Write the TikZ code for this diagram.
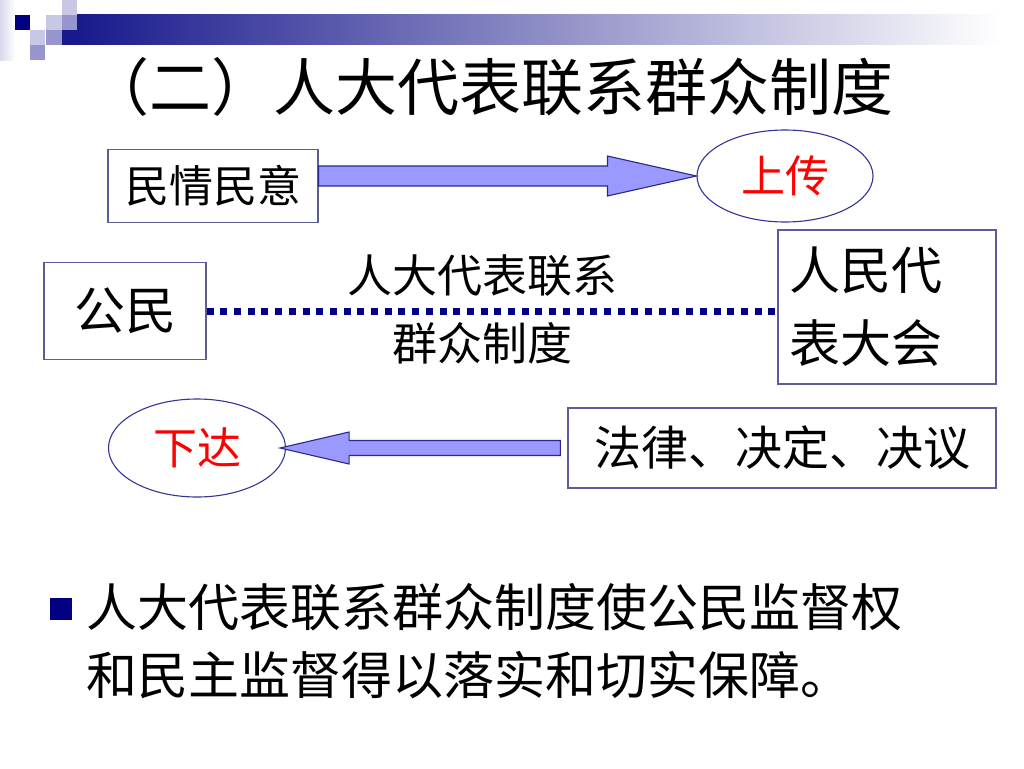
\documentclass[tikz,border=0pt]{standalone}
\usepackage{fontspec}
\setmainfont{Liberation Serif}
\newfontfamily\cjk{Noto Sans CJK SC}
\usetikzlibrary{shapes.geometric,calc}

\definecolor{boxline}{RGB}{92,92,150}
\definecolor{navyblue}{RGB}{0,0,128}
\definecolor{arrowfill}{RGB}{153,153,255}
\definecolor{arrowline}{RGB}{40,40,140}
\definecolor{lavlight}{RGB}{200,200,230}
\definecolor{lavmid}{RGB}{150,150,204}

\tikzset{
  txt/.style={font=\cjk\fontsize{#1}{#1}\selectfont,inner sep=0pt},
  txt/.default=51,
  framebox/.style={draw=boxline,line width=1.3pt,inner sep=0pt},
  oval/.style={ellipse,draw=navyblue!80,line width=1.1pt,inner sep=0pt,
    text=red,font=\cjk\fontsize{44}{44}\selectfont},
  fatarrow/.style={fill=arrowfill,draw=arrowline,line width=1.1pt,line join=miter},
}

\begin{document}
\begin{tikzpicture}[x=1pt,y=-1pt]
  \useasboundingbox (0,0) rectangle (1024,768);

  % corner ornament
  \shade[left color=lavlight!70,right color=white] (0,0) rectangle (15,60);
  \shade[left color=navyblue!90,right color=white] (77,15) rectangle (1000,45);
  \fill[navyblue] (15,15) rectangle (30,30);
  \fill[lavlight] (30,30) rectangle (45,45);
  \fill[lavmid]   (30,45) rectangle (45,60);
  \fill[lavlight] (46,15) rectangle (62,30);
  \fill[lavmid]   (46,30) rectangle (62,45);
  \fill[lavlight] (62,0)  rectangle (77,15);
  \fill[lavmid]   (62,15) rectangle (77,30);
  \fill[navyblue!90] (62,30) rectangle (77,45);

  % title
  \node[txt=62] (title) at (490,87) {（二）人大代表联系群众制度};

  % boxes and ovals
  \node[framebox,txt=44,minimum width=210,minimum height=73] (mq) at (213,186) {民情民意};
  \node[oval,minimum width=176,minimum height=92] (up) at (785,176) {上传};
  \node[framebox,txt,minimum width=162,minimum height=97] (gm) at (125,311) {公民};
  \node[framebox,txt,minimum width=218,minimum height=154,align=left,text width=196,
        font=\cjk\fontsize{51}{73}\selectfont] (rd) at (887,307) {人民代\\表大会};
  \node[framebox,txt=47,minimum width=428,minimum height=80] (fl) at (782,448) {法律、决定、决议};
  \node[oval,minimum width=177,minimum height=98] (xd) at (197,448) {下达};

  % link labels
  \node[txt=45] (lk1) at (482,276) {人大代表联系};
  \node[txt=45] (lk2) at (482,343) {群众制度};

  % connectors
  \draw[navyblue,line width=7pt,dash pattern=on 7pt off 6.7pt]
    (gm.east) -- (gm.east -| rd.west);

  \draw[fatarrow] let \p1=(mq.east), \p2=(up.west) in
    (\x1,\y2+10pt) -- (\x2-89pt,\y2+10pt) -- (\x2-89pt,\y2+20pt) -- (\x2,\y2)
    -- (\x2-89pt,\y2-20pt) -- (\x2-89pt,\y2-10pt) -- (\x1,\y2-10pt) -- cycle;

  \draw[fatarrow] let \p1=(fl.west), \p2=(xd.east) in
    (\x1-7pt,\y2+7.5pt) -- (\x2+63pt,\y2+7.5pt) -- (\x2+63pt,\y2+16pt) -- (\x2-6pt,\y2)
    -- (\x2+63pt,\y2-16pt) -- (\x2+63pt,\y2-7.5pt) -- (\x1-7pt,\y2-7.5pt) -- cycle;

  % bullet point
  \fill[navyblue] (50,598) rectangle (72,620);
  \node[txt,anchor=west] (pt1) at (86,607) {人大代表联系群众制度使公民监督权};
  \node[txt,anchor=west] (pt2) at (86,675) {和民主监督得以落实和切实保障。};
\end{tikzpicture}
\end{document}
